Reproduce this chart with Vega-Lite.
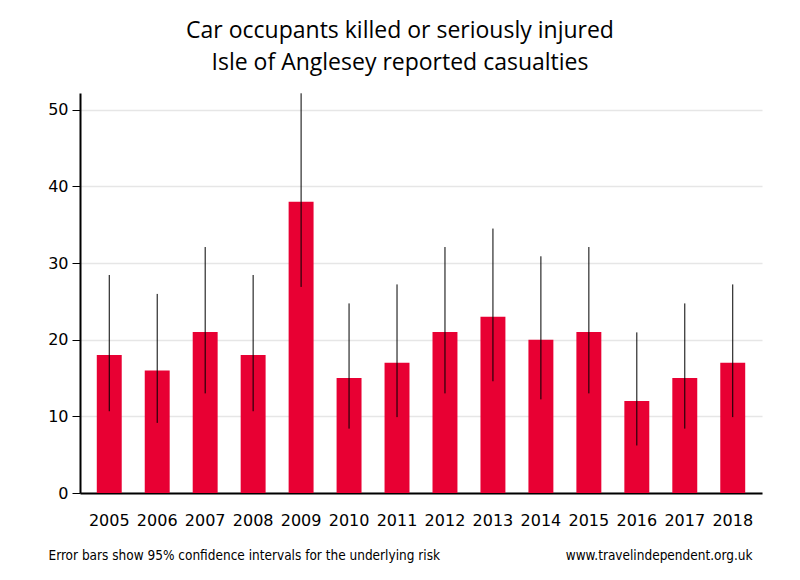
{
  "$schema": "https://vega.github.io/schema/vega-lite/v6.json",
  "autosize": "none",
  "width": 682,
  "height": 400,
  "padding": {"left": 80, "top": 93, "right": 38, "bottom": 87},
  "background": "white",
  "title": {
    "text": ["Car occupants killed or seriously injured", "Isle of Anglesey reported casualties"],
    "font": "Open Sans",
    "fontSize": 23,
    "fontWeight": "normal",
    "color": "black",
    "anchor": "middle",
    "dx": -21,
    "offset": 18,
    "lineHeight": 32
  },
  "config": {
    "view": {"stroke": null},
    "axis": {"labelFont": "DejaVu Sans", "labelFontSize": 16, "labelColor": "black"}
  },
  "data": {
    "values": [
      {"year": "2005", "casualties": 18, "lower": 10.67, "upper": 28.45},
      {"year": "2006", "casualties": 16, "lower": 9.15, "upper": 25.98},
      {"year": "2007", "casualties": 21, "lower": 13.0, "upper": 32.1},
      {"year": "2008", "casualties": 18, "lower": 10.67, "upper": 28.45},
      {"year": "2009", "casualties": 38, "lower": 26.89, "upper": 52.16},
      {"year": "2010", "casualties": 15, "lower": 8.4, "upper": 24.74},
      {"year": "2011", "casualties": 17, "lower": 9.9, "upper": 27.22},
      {"year": "2012", "casualties": 21, "lower": 13.0, "upper": 32.1},
      {"year": "2013", "casualties": 23, "lower": 14.58, "upper": 34.51},
      {"year": "2014", "casualties": 20, "lower": 12.22, "upper": 30.89},
      {"year": "2015", "casualties": 21, "lower": 13.0, "upper": 32.1},
      {"year": "2016", "casualties": 12, "lower": 6.2, "upper": 20.96},
      {"year": "2017", "casualties": 15, "lower": 8.4, "upper": 24.74},
      {"year": "2018", "casualties": 17, "lower": 9.9, "upper": 27.22}
    ]
  },
  "resolve": {"axis": {"x": "independent"}},
  "layer": [
    {
      "mark": {"type": "bar", "color": "#E80033"},
      "encoding": {
        "x": {
          "field": "year", "type": "ordinal",
          "scale": {"paddingInner": 0.48, "paddingOuter": 0.35},
          "axis": {
            "orient": "bottom",
            "labelAngle": 0,
            "ticks": false,
            "domainColor": "black",
            "domainWidth": 2,
            "labelPadding": 19,
            "title": "Error bars show 95% confidence intervals for the underlying risk",
            "titleFont": "Liberation Sans Narrow, DejaVu Sans Condensed, sans-serif",
            "titleFontSize": 13.5,
            "titleFontWeight": "normal",
            "titleColor": "black",
            "titleAnchor": null,
            "titleAlign": "left",
            "titleBaseline": "middle",
            "titleX": -32,
            "titleY": 62
          }
        },
        "y": {
          "field": "casualties", "type": "quantitative",
          "scale": {"domain": [0, 52.2], "nice": false},
          "axis": {
            "title": null,
            "values": [0, 10, 20, 30, 40, 50],
            "domainColor": "black",
            "domainWidth": 2,
            "tickColor": "black",
            "tickSize": 8,
            "tickWidth": 1,
            "labelPadding": 4,
            "gridColor": "#e6e6e6",
            "gridWidth": 1.5
          }
        }
      }
    },
    {
      "mark": {"type": "rule", "color": "black", "strokeWidth": 1},
      "encoding": {
        "x": {
          "field": "year", "type": "ordinal",
          "axis": {
            "orient": "bottom",
            "labels": false,
            "ticks": false,
            "domain": false,
            "grid": false,
            "title": "www.travelindependent.org.uk",
            "titleFont": "Liberation Sans Narrow, DejaVu Sans Condensed, sans-serif",
            "titleFontSize": 13.5,
            "titleFontWeight": "normal",
            "titleColor": "black",
            "titleAnchor": null,
            "titleAlign": "right",
            "titleBaseline": "middle",
            "titleX": 672,
            "titleY": 62
          }
        },
        "y": {"field": "lower", "type": "quantitative"},
        "y2": {"field": "upper"}
      }
    }
  ]
}
